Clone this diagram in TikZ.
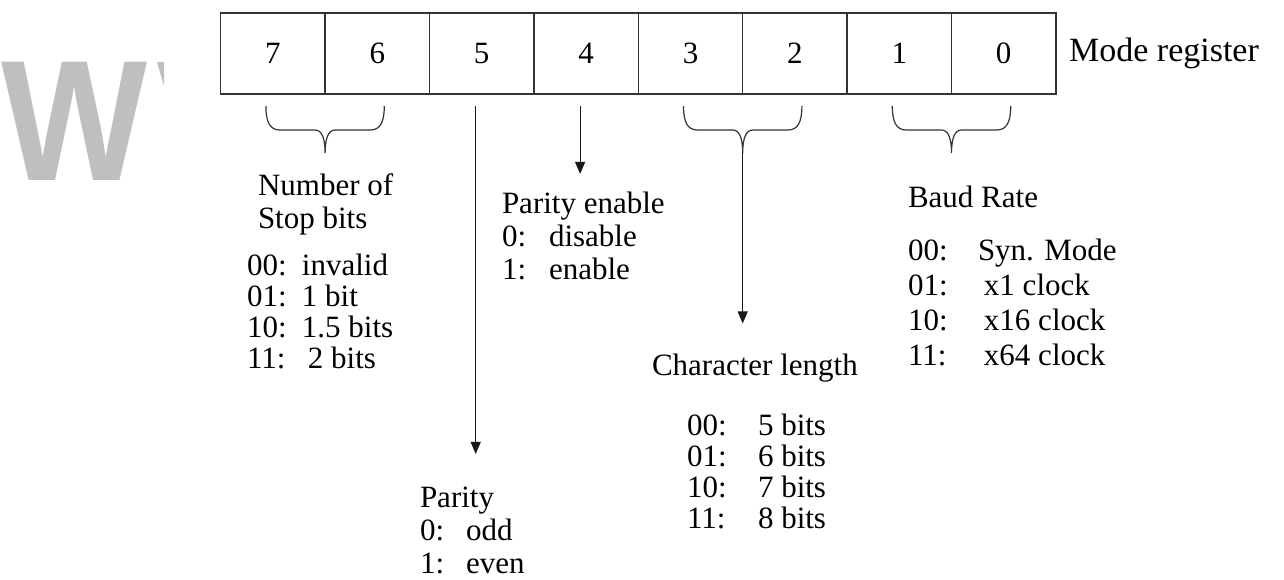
\documentclass[tikz,border=0pt]{standalone}
\usepackage{fontspec}
\setmainfont{Liberation Serif}
\setsansfont{Liberation Sans}
\usetikzlibrary{positioning, calc, arrows.meta}

% curly brace under two cells, #3 names its tip
\newcommand{\bitbrace}[3]{%
  \coordinate (#3-l) at ($(#1.south)+(-7,12)$);
  \coordinate (#3-r) at ($(#2.south)+(7,12)$);
  \coordinate (#3) at ($(#1.south)!0.5!(#2.south)+(0,59)$);
  \draw[brace] (#3-l) .. controls +(0,16) and +(-10,0) .. ($(#3-l)+(14,24)$)
    -- ($(#3)+(-10,-23)$) .. controls +(7,0) and +(0,-14) .. (#3)
    .. controls +(0,-14) and +(-7,0) .. ($(#3)+(10,-23)$)
    -- ($(#3-r)+(-14,24)$) .. controls +(10,0) and +(0,16) .. (#3-r);
}

\begin{document}
\begin{tikzpicture}[x=1pt, y=-1pt, font=\fontsize{31}{31}\selectfont, >={Triangle[length=12pt,width=10pt]}]
    % Define styles
    \tikzstyle{cell} = [rectangle, draw=black!80, line width=1.3pt, minimum width=104.4pt, minimum height=81pt, inner sep=0pt, outer sep=0pt]
    \tikzstyle{txt} = [inner sep=0pt, outer sep=0pt, anchor=base west, align=left]
    \tikzstyle{arrow} = [->, line width=1.2pt, black!90]
    \tikzstyle{brace} = [line width=1.2pt, black!80]

    \useasboundingbox (0,0) rectangle (1284,579);

    % Grey watermark on the left, cut off at the right
    \node[anchor=north west, inner sep=0pt, xscale=0.9, text=black!25, font=\fontsize{172}{172}\sffamily\bfseries] (mark) at (1,62) {W};
    \fill[black!25] (157,62) -- (164,62) -- (164,86) -- cycle;

    % Place register cells
    \node[cell] (b7) at (272.9,53.5) {7};
    \node[cell, right=0pt of b7] (b6) {6};
    \node[cell, right=0pt of b6] (b5) {5};
    \node[cell, right=0pt of b5] (b4) {4};
    \node[cell, right=0pt of b4] (b3) {3};
    \node[cell, right=0pt of b3] (b2) {2};
    \node[cell, right=0pt of b2] (b1) {1};
    \node[cell, right=0pt of b1] (b0) {0};
    \node[right=13pt of b0, inner sep=0pt, font=\fontsize{34}{34}\selectfont] (modereg) {Mode register};

    % Braces under bit pairs
    \bitbrace{b7}{b6}{stoptip}
    \bitbrace{b3}{b2}{chartip}
    \bitbrace{b1}{b0}{baudtip}

    % Place text blocks
    \node[txt] (stop) at (258,195) {\fontsize{31}{33}\selectfont\begin{tabular}[t]{@{}l@{}}
        Number of\\ Stop bits
    \end{tabular}};
    \node[txt] (stoplist) at (247,275) {\begin{tabular}[t]{@{}p{55pt}@{}l@{}}
        00: & invalid\\ 01: & 1 bit\\ 10: & 1.5 bits\\ 11: & \hspace{6pt}2 bits
    \end{tabular}};
    \node[txt] (paren) at (502,213) {\fontsize{31}{33}\selectfont\begin{tabular}[t]{@{}p{47pt}@{}l@{}}
        \multicolumn{2}{@{}l@{}}{Parity enable}\\ 0: & disable\\ 1: & enable
    \end{tabular}};
    \node[txt] (parity) at (420,507) {\fontsize{31}{33}\selectfont\begin{tabular}[t]{@{}p{46pt}@{}l@{}}
        \multicolumn{2}{@{}l@{}}{Parity}\\ 0: & odd\\ 1: & even
    \end{tabular}};
    \node[txt] (charlen) at (652,375) {Character length};
    \node[txt] (charlist) at (687,435) {\begin{tabular}[t]{@{}p{71pt}@{}l@{}}
        00: & 5 bits\\ 01: & 6 bits\\ 10: & 7 bits\\ 11: & 8 bits
    \end{tabular}};
    \node[txt] (baud) at (908,207) {Baud Rate};
    \node[txt] (baudlist) at (908,260) {\fontsize{31}{35}\selectfont\begin{tabular}[t]{@{}p{70pt}@{}l@{}}
        00: & Syn. Mode\\ 01: & \hspace{6pt}x1 clock\\ 10: & \hspace{6pt}x16 clock\\ 11: & \hspace{6pt}x64 clock
    \end{tabular}};

    % Draw arrows
    \draw[arrow, shorten <=12pt, shorten >=30pt] ([xshift=-6pt]b5.south) -- ([xshift=-6pt]b5.south |- parity.north);
    \draw[arrow, shorten <=12pt, shorten >=16pt] ([xshift=-6pt]b4.south) -- ([xshift=-6pt]b4.south |- paren.north);
    \draw[arrow, shorten >=30pt] (chartip) -- (chartip |- charlen.north);

\end{tikzpicture}
\end{document}
